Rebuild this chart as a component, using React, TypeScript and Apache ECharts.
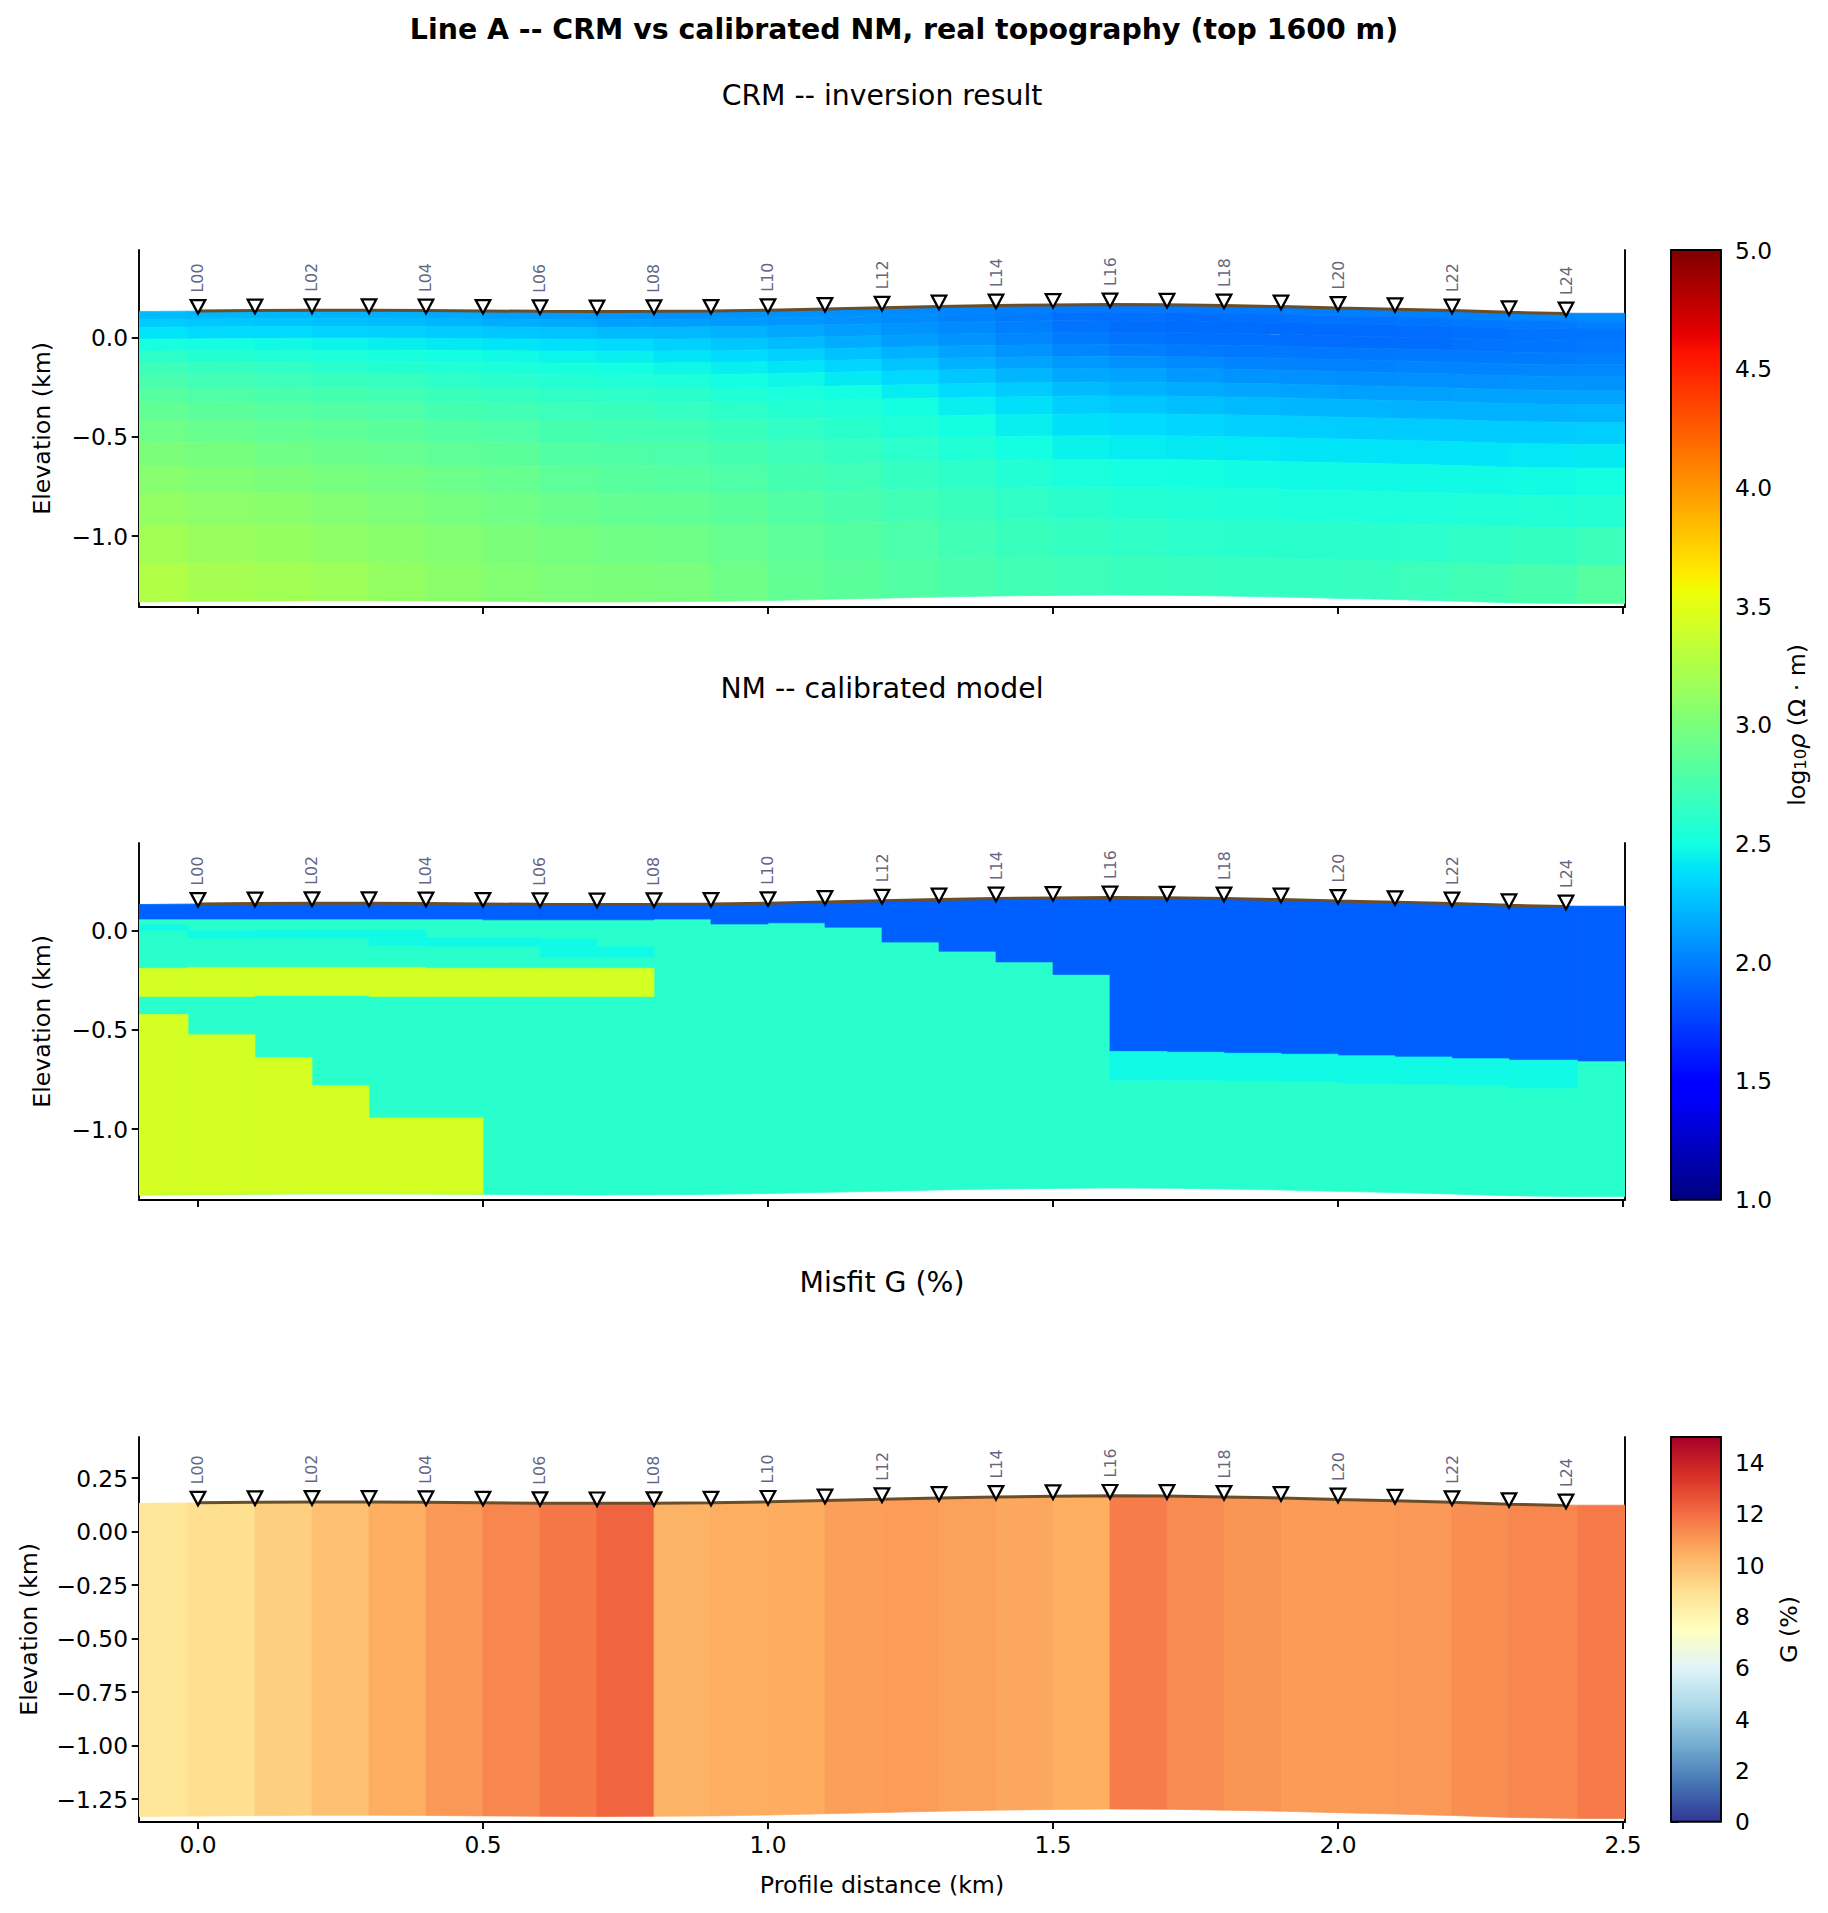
import React, { useEffect, useRef } from "react";
import * as echarts from "echarts";

const FONT = "DejaVu Sans";
const stationX = [0,0.1,0.2,0.3,0.4,0.5,0.6,0.7,0.8,0.9,1.0,1.1,1.2,1.3,1.4,1.5,1.6,1.7,1.8,1.9,2.0,2.1,2.2,2.3,2.4];
const stationNames = ["L00","L01","L02","L03","L04","L05","L06","L07","L08","L09","L10","L11","L12","L13","L14","L15","L16","L17","L18","L19","L20","L21","L22","L23","L24"];
const topo = [.135,.137,.138,.138,.137,.135,.133,.132,.133,.135,.139,.145,.151,.157,.162,.165,.167,.166,.162,.157,.150,.144,.137,.128,.122];

const edgeX = [-.1035,-.0175,.1,.2,.3,.4,.5,.6,.7,.8,.9,1.0,1.1,1.2,1.3,1.4,1.5,1.6,1.7,1.8,1.9,2.0,2.1,2.2,2.3,2.42,2.5035];
const edgeTop = [.132,.134,.136,.138,.138,.137,.135,.133,.132,.133,.135,.139,.145,.151,.157,.162,.165,.167,.166,.162,.157,.150,.144,.137,.128,.1235,.1235];

const crmDepths = [0,.04,.08,.14,.2,.26,.32,.39,.46,.55,.66,.78,.92,1.08,1.27,1.463];
const crmRow00 = [2.24,2.22,2.22,2.20,2.19,2.17,2.13,2.11,2.09,2.07,2.08,2.07,2.06,2.05,2.02,2.00,1.98,1.97,1.97,1.98,1.99,2.00,2.00,2.01,2.03,2.04];
const crmRow01 = [2.30,2.28,2.27,2.25,2.24,2.21,2.18,2.16,2.13,2.12,2.11,2.09,2.07,2.05,2.01,1.98,1.94,1.94,1.93,1.94,1.95,1.95,1.96,1.97,1.98,2.00];
const crmRow02 = [2.40,2.36,2.36,2.33,2.32,2.30,2.28,2.27,2.24,2.23,2.20,2.16,2.12,2.08,2.04,2.00,1.95,1.93,1.92,1.92,1.92,1.92,1.93,1.94,1.95,1.96];
const crmRow03 = [2.52,2.50,2.48,2.46,2.44,2.42,2.40,2.38,2.36,2.32,2.28,2.24,2.18,2.12,2.08,2.03,1.98,1.95,1.94,1.94,1.93,1.93,1.93,1.95,1.96,1.97];
const crmRow04 = [2.62,2.58,2.56,2.54,2.52,2.50,2.48,2.46,2.44,2.40,2.36,2.32,2.26,2.20,2.14,2.08,2.03,2.00,1.98,1.97,1.97,1.97,1.98,1.98,1.99,2.00];
const crmRow05 = [2.70,2.66,2.64,2.60,2.58,2.56,2.54,2.52,2.50,2.47,2.44,2.40,2.34,2.27,2.20,2.14,2.10,2.07,2.04,2.02,2.01,2.01,2.02,2.02,2.03,2.04];
const crmRow06 = [2.76,2.72,2.70,2.68,2.66,2.62,2.60,2.58,2.56,2.54,2.50,2.47,2.42,2.35,2.28,2.22,2.16,2.14,2.10,2.08,2.07,2.06,2.07,2.07,2.08,2.08];
const crmRow07 = [2.82,2.78,2.76,2.74,2.72,2.68,2.66,2.63,2.62,2.60,2.56,2.53,2.50,2.43,2.36,2.30,2.24,2.20,2.17,2.15,2.14,2.13,2.13,2.14,2.14,2.14];
const crmRow08 = [2.88,2.84,2.82,2.80,2.78,2.74,2.72,2.69,2.68,2.66,2.62,2.58,2.55,2.50,2.44,2.38,2.31,2.28,2.25,2.23,2.22,2.21,2.20,2.20,2.20,2.21];
const crmRow09 = [2.94,2.90,2.88,2.86,2.84,2.80,2.78,2.74,2.73,2.72,2.68,2.64,2.60,2.55,2.50,2.44,2.38,2.36,2.34,2.32,2.31,2.30,2.30,2.30,2.30,2.31];
const crmRow10 = [3.00,2.97,2.94,2.92,2.90,2.86,2.84,2.80,2.78,2.77,2.74,2.70,2.66,2.61,2.56,2.50,2.45,2.43,2.42,2.41,2.40,2.40,2.39,2.40,2.41,2.42];
const crmRow11 = [3.06,3.03,3.00,2.98,2.96,2.93,2.90,2.86,2.83,2.82,2.78,2.74,2.71,2.66,2.62,2.57,2.53,2.51,2.50,2.49,2.48,2.48,2.48,2.48,2.49,2.50];
const crmRow12 = [3.12,3.09,3.07,3.04,3.01,2.98,2.95,2.92,2.89,2.88,2.84,2.80,2.76,2.72,2.68,2.63,2.60,2.58,2.56,2.55,2.54,2.54,2.54,2.55,2.56,2.58];
const crmRow13 = [3.19,3.15,3.13,3.10,3.07,3.04,3.00,2.97,2.95,2.94,2.90,2.85,2.81,2.77,2.72,2.68,2.65,2.63,2.61,2.60,2.60,2.60,2.61,2.63,2.65,2.69];
const crmRow14 = [3.26,3.21,3.19,3.16,3.12,3.08,3.04,3.01,3.00,2.99,2.94,2.88,2.84,2.80,2.76,2.72,2.70,2.68,2.67,2.66,2.66,2.67,2.69,2.72,2.76,2.82];
const crmRows = [crmRow00,crmRow01,crmRow02,crmRow03,crmRow04,crmRow05,crmRow06,crmRow07,crmRow08,crmRow09,crmRow10,crmRow11,crmRow12,crmRow13,crmRow14];

const modelDepth = 1.463;
const nmBackground = 2.6;
const nmBlueValue = 1.876;
const nmCyanValue = 2.48;
const nmYellowValue = 3.43;
const nmBlueBase = [.059,.059,.059,.059,.059,.059,.055,.055,.055,.059,.034,.040,.018,-.057,-.103,-.157,-.22,-.608,-.612,-.617,-.622,-.63,-.636,-.645,-.652,-.656];
const nmLensColumns = [0,1,2,3,4,5,6,7,8];
const nmLensTop = [.029,0,.003,.003,.003,-.037,-.037,-.042,-.081];
const nmLensBase = [.003,-.037,-.037,-.037,-.076,-.08,-.08,-.132,-.132];
const nmBandColumns = [0,1,2,3,4,5,6,7,8];
const nmBandTop = [-.189,-.184,-.184,-.184,-.184,-.189,-.189,-.189,-.189];
const nmBandBase = [-.331,-.331,-.326,-.326,-.331,-.331,-.331,-.331,-.331];
const nmWedgeColumns = [0,1,2,3,4,5];
const nmWedgeTop = [-.422,-.524,-.639,-.78,-.943,-.943];
const nmDeepColumns = [17,18,19,20,21,22,23,24];
const nmDeepBase = [-.752,-.752,-.755,-.758,-.767,-.772,-.78,-.792];

const misfit = [8.7,9.0,9.5,10.0,10.5,11.0,11.4,11.8,12.2,10.35,10.5,10.55,10.85,10.9,10.8,10.65,10.5,11.65,11.3,11.1,10.95,10.95,11.0,11.25,11.4,11.7];

const xTicks = [0,0.5,1.0,1.5,2.0,2.5];
const yTicksCoarse = [-1.0,-0.5,0];
const yTicksFine = [-1.25,-1,-0.75,-0.5,-0.25,0,0.25];
const rhoTicks = [1,1.5,2,2.5,3,3.5,4,4.5,5];
const gTicks = [0,2,4,6,8,10,12,14];

type Stop = [number, number, number, number];
const jetStops: Stop[] = [[0,0,0,127],[.11,0,0,255],[.125,0,0,255],[.34,0,219,255],[.35,0,229,247],[.375,20,255,226],[.64,238,255,8],[.65,247,245,0],[.66,255,236,0],[.89,255,18,0],[.91,232,0,0],[1,127,0,0]];
const rdYlBuStops: Stop[] = [[0,49,54,149],[.1,69,117,180],[.2,116,173,209],[.3,171,217,233],[.4,224,243,248],[.5,255,255,191],[.6,254,224,144],[.7,253,174,97],[.8,244,109,67],[.9,215,48,39],[1,165,0,38]];

function colorAt(stops: Stop[], t: number) {
  const u = Math.max(0, Math.min(1, t));
  for (let i = 1; i < stops.length; i++) {
    if (u <= stops[i][0]) {
      const a = stops[i - 1], b = stops[i];
      const f = (u - a[0]) / (b[0] - a[0] || 1);
      return `rgb(${Math.round(a[1] + f * (b[1] - a[1]))},${Math.round(a[2] + f * (b[2] - a[2]))},${Math.round(a[3] + f * (b[3] - a[3]))})`;
    }
  }
  return "#000";
}
const jet = (v: number) => colorAt(jetStops, (v - 1) / 4);
const rdYlBu = (v: number) => colorAt(rdYlBuStops, v / 15);

const Y_MIN = -1.355, Y_MAX = 0.442, X_MIN = -0.1035, X_MAX = 2.5035;
const LEFT = 139, RIGHT = 1828 - 1625;
const panels = [
  { top: 250, bottom: 606.7 },
  { top: 843, bottom: 1199.7 },
  { top: 1437, bottom: 1821.7 },
];
const SPINE = 1.9;
const TICK_FONT = 23.3;
const NAME_FONT = 23.7;
const axisLine = { show: true, onZero: false, lineStyle: { color: "#000", width: SPINE } };
const tickStyle = { color: "#000", width: SPINE };
const textBase = { fontFamily: FONT, fontSize: TICK_FONT, color: "#000" };
const nameBase = { fontFamily: FONT, fontSize: NAME_FONT, color: "#000" };

const fmt = (d: number) => (v: number) => v.toFixed(d).replace("-", "\u2212");

function cellSeries(grid: number, cells: number[][], cmap: (v: number) => string, z = 2) {
  return {
    type: "custom", xAxisIndex: grid, yAxisIndex: grid * 2, silent: true, z,
    encode: { x: [0, 1], y: [2, 3, 4, 5] },
    data: cells,
    clip: true,
    renderItem: (_: any, api: any) => {
      const pts = [
        api.coord([api.value(0), api.value(2)]),
        api.coord([api.value(1), api.value(3)]),
        api.coord([api.value(1), api.value(5)]),
        api.coord([api.value(0), api.value(4)]),
      ];
      const c = cmap(api.value(6));
      return { type: "polygon", shape: { points: pts }, style: { fill: c, stroke: c, lineWidth: 0.7 } };
    },
  };
}

const crmCells: number[][] = [];
crmRows.forEach((row, r) => row.forEach((v, c) => {
  crmCells.push([edgeX[c], edgeX[c + 1], edgeTop[c] - crmDepths[r], edgeTop[c + 1] - crmDepths[r], edgeTop[c] - crmDepths[r + 1], edgeTop[c + 1] - crmDepths[r + 1], v]);
}));

const box = (c: number, yTop: number, yBase: number, v: number) => [edgeX[c], edgeX[c + 1], yTop, yTop, yBase, yBase, v];
const nmCells: number[][] = [];
misfit.forEach((_, c) => nmCells.push([edgeX[c], edgeX[c + 1], edgeTop[c], edgeTop[c + 1], edgeTop[c] - modelDepth, edgeTop[c + 1] - modelDepth, nmBackground]));
nmBlueBase.forEach((b, c) => nmCells.push([edgeX[c], edgeX[c + 1], edgeTop[c], edgeTop[c + 1], b, b, nmBlueValue]));
nmLensColumns.forEach((c, i) => nmCells.push(box(c, nmLensTop[i], nmLensBase[i], nmCyanValue)));
nmBandColumns.forEach((c, i) => nmCells.push(box(c, nmBandTop[i], nmBandBase[i], nmYellowValue)));
nmWedgeColumns.forEach((c, i) => nmCells.push([edgeX[c], edgeX[c + 1], nmWedgeTop[i], nmWedgeTop[i], edgeTop[c] - modelDepth, edgeTop[c + 1] - modelDepth, nmYellowValue]));
nmDeepColumns.forEach((c, i) => nmCells.push(box(c, nmBlueBase[c], nmDeepBase[i], nmCyanValue)));

const misfitCells = misfit.map((v, c) => [edgeX[c], edgeX[c + 1], edgeTop[c], edgeTop[c + 1], edgeTop[c] - modelDepth, edgeTop[c + 1] - modelDepth, v]);

function stationSeries(grid: number, lift: number) {
  return [
    {
      type: "line", xAxisIndex: grid, yAxisIndex: grid * 2, z: 4, silent: true, symbol: "none",
      data: stationX.map((x, i) => [x, topo[i]]),
      lineStyle: { color: "#6a4e2a", width: 3 },
    },
    {
      type: "scatter", xAxisIndex: grid, yAxisIndex: grid * 2, z: 5, silent: true,
      symbol: "triangle", symbolRotate: 180, symbolSize: [14.5, 13.5],
      itemStyle: { color: "#fff", borderColor: "#000", borderWidth: 2.3, opacity: 1, borderJoin: "miter", borderMiterLimit: 10 },
      data: stationX.map((x, i) => ({
        value: [x, topo[i] + lift],
        name: stationNames[i],
        label: {
          show: i % 2 === 0, formatter: stationNames[i], position: "top", distance: 8, rotate: 90, offset: [-1.5, 0],
          align: "left", verticalAlign: "middle", fontFamily: FONT, fontSize: 15.8, color: "rgba(60,60,95,0.8)",
        },
      })),
    },
  ];
}

function colorbarSeries(xi: number, yi: number, stops: Stop[], lo: number, hi: number) {
  return {
    type: "custom", xAxisIndex: xi, yAxisIndex: yi, silent: true, z: 3,
    encode: { x: 0, y: 1 },
    data: [[0, lo]],
    renderItem: (_: any, api: any) => {
      const a = api.coord([0, hi]);
      const b = api.coord([1, lo]);
      const grad = new echarts.graphic.LinearGradient(0, 0, 0, 1,
        stops.map((s) => ({ offset: 1 - s[0], color: `rgb(${s[1]},${s[2]},${s[3]})` })).reverse());
      return { type: "rect", shape: { x: a[0], y: a[1], width: b[0] - a[0], height: b[1] - a[1] }, style: { fill: grad, stroke: "#000", lineWidth: SPINE } };
    },
  };
}

function buildOption() {
  const grids: any[] = panels.map((p) => ({ left: LEFT, right: RIGHT, top: p.top, height: p.bottom - p.top, containLabel: false }));
  grids.push({ left: 1671, width: 50, top: 250, height: 949.7 });
  grids.push({ left: 1671, width: 50, top: 1437, height: 384.7 });

  const xAxes: any[] = panels.map((_, i) => ({
    type: "value", gridIndex: i, min: X_MIN, max: X_MAX, splitLine: { show: false }, position: "bottom",
    axisLine,
    axisTick: { show: true, length: 7.3, lineStyle: tickStyle, customValues: xTicks },
    axisLabel: { show: i === 2, customValues: xTicks, formatter: fmt(1), ...textBase, margin: 11 },
    ...(i === 2 ? { name: "Profile distance (km)", nameLocation: "middle", nameGap: 51, nameTextStyle: { ...nameBase } } : {}),
  }));
  xAxes.push({ type: "value", gridIndex: 3, min: 0, max: 1, show: false });
  xAxes.push({ type: "value", gridIndex: 4, min: 0, max: 1, show: false });

  const yAxes: any[] = [];
  panels.forEach((_, i) => {
    const ticks = i === 2 ? yTicksFine : yTicksCoarse;
    yAxes.push({
      type: "value", gridIndex: i, min: Y_MIN, max: Y_MAX, position: "left", splitLine: { show: false },
      axisLine,
      axisTick: { show: true, length: 7.3, lineStyle: tickStyle, customValues: ticks },
      axisLabel: { customValues: ticks, formatter: fmt(i === 2 ? 2 : 1), ...textBase, margin: 11 },
      name: "Elevation (km)", nameLocation: "middle", nameGap: i === 2 ? 98 : 85, nameRotate: 90,
      nameTextStyle: { ...nameBase },
    });
    yAxes.push({
      type: "value", gridIndex: i, min: Y_MIN, max: Y_MAX, position: "right", splitLine: { show: false },
      axisLine, axisTick: { show: false }, axisLabel: { show: false },
    });
  });
  yAxes.push({
    type: "value", gridIndex: 3, min: 1, max: 5, position: "right", splitLine: { show: false },
    axisLine: { show: false },
    axisTick: { show: true, length: 7.3, lineStyle: tickStyle, customValues: rhoTicks },
    axisLabel: { customValues: rhoTicks, formatter: fmt(1), ...textBase, margin: 14 },
    name: "{t|log}{s|10}{i|\u03c1}{t| (\u03a9 \u00b7 m)}", nameLocation: "middle", nameGap: 63, nameRotate: 90,
    nameTextStyle: { ...nameBase, rich: {
      t: { ...nameBase },
      s: { fontFamily: FONT, fontSize: 16.5, color: "#000", verticalAlign: "bottom", padding: [8, 0, 0, 0] },
      i: { ...nameBase, fontStyle: "italic" },
    } },
  });
  yAxes.push({
    type: "value", gridIndex: 4, min: 0, max: 15, position: "right", splitLine: { show: false },
    axisLine: { show: false },
    axisTick: { show: true, length: 7.3, lineStyle: tickStyle, customValues: gTicks },
    axisLabel: { customValues: gTicks, formatter: fmt(0), ...textBase, margin: 14 },
    name: "G (%)", nameLocation: "middle", nameGap: 56, nameRotate: 90,
    nameTextStyle: { ...nameBase },
  });

  const series: any[] = [
    cellSeries(0, crmCells, jet), ...stationSeries(0, 0.0207),
    cellSeries(1, nmCells, jet), ...stationSeries(1, 0.0207),
    cellSeries(2, misfitCells, rdYlBu), ...stationSeries(2, 0.0192),
    colorbarSeries(3, 6, jetStops, 1, 5),
    colorbarSeries(4, 7, rdYlBuStops, 0, 15),
  ];

  const title = (text: string, y: number, size: number, weight: string, x = 882) => ({
    type: "text", x, y, silent: true,
    style: { text, fontFamily: FONT, fontSize: size, fontWeight: weight, fill: "#000", textAlign: "center", textVerticalAlign: "middle" },
  });

  return {
    animation: false,
    backgroundColor: "#fff",
    grid: grids,
    xAxis: xAxes,
    yAxis: yAxes,
    series,
    graphic: [
      title("Line A -- CRM vs calibrated NM, real topography (top 1600 m)", 29, 28.4, "bold", 904),
      title("CRM -- inversion result", 95.5, 28.3, "normal"),
      title("NM -- calibrated model", 688, 28.3, "normal"),
      title("Misfit G (%)", 1282, 28.3, "normal"),
    ],
  };
}

export default function App() {
  const ref = useRef<HTMLDivElement>(null);
  useEffect(() => {
    const chart = echarts.init(ref.current!, undefined, { renderer: "svg" });
    chart.setOption(buildOption() as any);
    return () => chart.dispose();
  }, []);
  return <div ref={ref} style={{ position: "absolute", left: 0, top: 0, width: 1828, height: 1913 }} />;
}
